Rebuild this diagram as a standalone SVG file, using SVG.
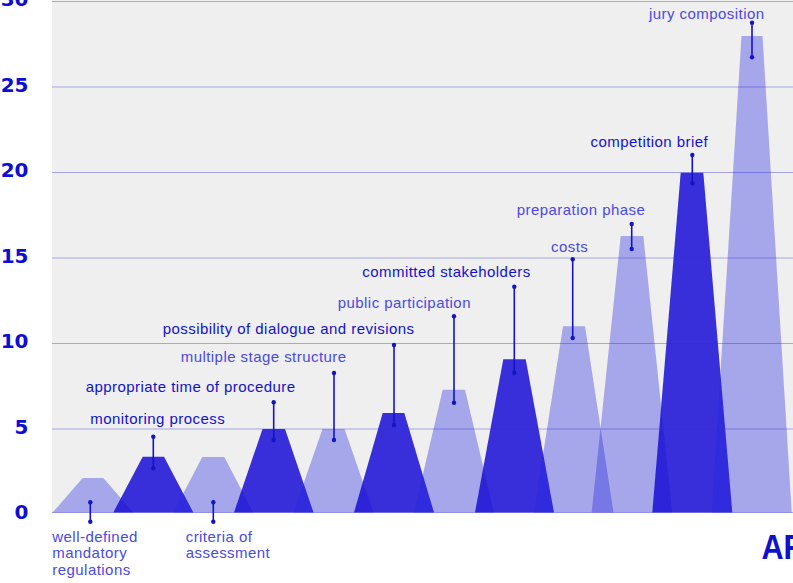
<svg xmlns="http://www.w3.org/2000/svg" width="793" height="583" viewBox="0 0 793 583">
<style>
.ax{font-family:"DejaVu Sans",sans-serif;font-weight:bold;font-size:20px;fill:#0d0dd6;text-anchor:end}
.lbl{font-family:"Liberation Sans",Arial,sans-serif;font-size:15px;letter-spacing:0.45px}
.lt{fill:#4a4ae2}
.dk{fill:#1212c8}
.sl{fill:#2424e0;fill-opacity:0.36}
.sd{fill:#1a0fd6;fill-opacity:0.86}
.grid{stroke:#2a2ad8;stroke-opacity:0.38;stroke-width:1}
.con line{stroke:#1414c4;stroke-width:1.6}
.con circle{fill:#1414c4}
</style>
<rect x="0" y="0" width="793" height="583" fill="#ffffff"/>
<rect x="52" y="0" width="741" height="512.5" fill="#efefef"/>
<g id="shapes">
<polygon id="s1" class="sl" points="52.7,512.5 82.7,478 103.3,478 133.3,512.5"/>
<polygon id="s2" class="sd" points="113.3,512.5 142.7,456.7 164,456.7 193.3,512.5"/>
<polygon id="s3" class="sl" points="173.3,512.5 202.3,457 224.3,457 253.3,512.5"/>
<polygon id="s4" class="sd" points="234,512.5 262.5,429 285,429 313.5,512.5"/>
<polygon id="s5" class="sl" points="293.5,512.5 322.5,429 344.5,429 373.5,512.5"/>
<polygon id="s6" class="sd" points="354,512.5 382.7,413 404.3,413 434,512.5"/>
<polygon id="s7" class="sl" points="414,512.5 442.7,389.7 465,389.7 494,512.5"/>
<polygon id="s8" class="sd" points="475,512.5 503.3,359.3 525.7,359.3 554,512.5"/>
<polygon id="s9" class="sl" points="534,512.5 563,326.3 585,326.3 613.5,512.5"/>
<polygon id="s10" class="sl" points="591.7,512.5 620.7,236 643.3,236 672.3,512.5"/>
<polygon id="s11" class="sd" points="652.3,512.5 680.7,172.7 703.3,172.7 732.3,512.5"/>
<polygon id="s12" class="sl" points="711.7,512.5 741.5,36 762.5,36 791.7,512.5"/>
</g>
<g id="gridlines">
<line class="grid" x1="52" y1="1.5" x2="793" y2="1.5" stroke-width="1.6"/>
<line class="grid" x1="52" y1="87" x2="793" y2="87"/>
<line class="grid" x1="52" y1="172.5" x2="793" y2="172.5"/>
<line class="grid" x1="52" y1="258" x2="793" y2="258"/>
<line class="grid" x1="52" y1="343.5" x2="793" y2="343.5"/>
<line class="grid" x1="52" y1="429" x2="793" y2="429"/>
<line class="grid" x1="52" y1="512.5" x2="793" y2="512.5"/>
</g>
<g id="axis">
<text class="ax" x="28.5" y="6">30</text>
<text class="ax" x="28.5" y="91.5">25</text>
<text class="ax" x="28.5" y="177">20</text>
<text class="ax" x="28.5" y="262.5">15</text>
<text class="ax" x="28.5" y="348">10</text>
<text class="ax" x="28.5" y="433.5">5</text>
<text class="ax" x="28.5" y="518.5">0</text>
</g>
<g id="connectors" class="con">
<line x1="90.3" y1="502.3" x2="90.3" y2="521.7"/><circle cx="90.3" cy="502.3" r="2.2"/><circle cx="90.3" cy="521.7" r="2.2"/>
<line x1="153.3" y1="436.7" x2="153.3" y2="468.3"/><circle cx="153.3" cy="436.7" r="2.2"/><circle cx="153.3" cy="468.3" r="2.2"/>
<line x1="213.3" y1="502.3" x2="213.3" y2="521.7"/><circle cx="213.3" cy="502.3" r="2.2"/><circle cx="213.3" cy="521.7" r="2.2"/>
<line x1="273.7" y1="402.3" x2="273.7" y2="440"/><circle cx="273.7" cy="402.3" r="2.2"/><circle cx="273.7" cy="440" r="2.2"/>
<line x1="334" y1="373" x2="334" y2="440"/><circle cx="334" cy="373" r="2.2"/><circle cx="334" cy="440" r="2.2"/>
<line x1="394" y1="345" x2="394" y2="425"/><circle cx="394" cy="345" r="2.2"/><circle cx="394" cy="425" r="2.2"/>
<line x1="454" y1="316.3" x2="454" y2="402.7"/><circle cx="454" cy="316.3" r="2.2"/><circle cx="454" cy="402.7" r="2.2"/>
<line x1="514.3" y1="286.7" x2="514.3" y2="372.7"/><circle cx="514.3" cy="286.7" r="2.2"/><circle cx="514.3" cy="372.7" r="2.2"/>
<line x1="572.7" y1="259.3" x2="572.7" y2="338"/><circle cx="572.7" cy="259.3" r="2.2"/><circle cx="572.7" cy="338" r="2.2"/>
<line x1="631.7" y1="224" x2="631.7" y2="249"/><circle cx="631.7" cy="224" r="2.2"/><circle cx="631.7" cy="249" r="2.2"/>
<line x1="692.3" y1="155" x2="692.3" y2="183.3"/><circle cx="692.3" cy="155" r="2.2"/><circle cx="692.3" cy="183.3" r="2.2"/>
<line x1="752" y1="22.7" x2="752" y2="57.3"/><circle cx="752" cy="22.7" r="2.2"/><circle cx="752" cy="57.3" r="2.2"/>
</g>
<g id="n-jury"><text class="lbl lt" x="649" y="18.5">jury composition</text></g>
<g id="n-brief"><text class="lbl dk" x="590.5" y="146.7">competition brief</text></g>
<g id="n-prep"><text class="lbl lt" x="516.7" y="215">preparation phase</text></g>
<g id="n-costs"><text class="lbl lt" x="551" y="251.7">costs</text></g>
<g id="n-committed"><text class="lbl dk" x="362.3" y="276.7">committed stakeholders</text></g>
<g id="n-public"><text class="lbl lt" x="337.7" y="307.5">public participation</text></g>
<g id="n-dialogue"><text class="lbl dk" x="162.7" y="334">possibility of dialogue and revisions</text></g>
<g id="n-multiple"><text class="lbl lt" x="180.7" y="361.7">multiple stage structure</text></g>
<g id="n-time"><text class="lbl dk" x="85.7" y="391.7">appropriate time of procedure</text></g>
<g id="n-monitoring"><text class="lbl dk" x="90.3" y="424.3">monitoring process</text></g>
<g id="n-criteria"><text class="lbl lt" x="185.7" y="541.7">criteria of</text><text class="lbl lt" x="185.7" y="558.3">assessment</text></g>
<g id="n-welldefined"><text class="lbl lt" x="52.3" y="541.7">well-defined</text><text class="lbl lt" x="52.3" y="558.3">mandatory</text><text class="lbl lt" x="52.3" y="574.8">regulations</text></g>
<text transform="translate(761.5,559) scale(0.85,1)" font-family="Liberation Sans, Arial, sans-serif" font-weight="bold" font-size="36" fill="#1010d0">AR</text>
</svg>
